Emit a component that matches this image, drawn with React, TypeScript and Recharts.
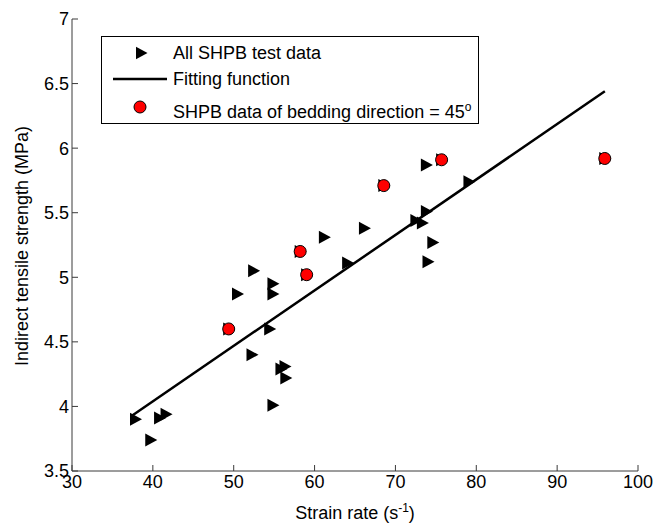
import React from 'react';
import { ScatterChart, Scatter, XAxis, YAxis, Legend } from 'recharts';

// All SHPB test data (strain rate, indirect tensile strength)
const allRate = [37.85, 39.74, 40.83, 41.63, 49.38, 50.47, 52.26, 52.46, 54.45, 54.85, 54.85, 54.85, 55.84, 56.34, 56.44, 58.22, 59.02, 61.21, 64.09, 66.17, 68.56, 72.53, 73.33, 73.83, 73.83, 74.62, 74.03, 75.71, 79.09, 95.89];
const allStrength = [3.90, 3.74, 3.91, 3.94, 4.60, 4.87, 4.40, 5.05, 4.60, 4.95, 4.87, 4.01, 4.29, 4.31, 4.22, 5.20, 5.02, 5.31, 5.11, 5.38, 5.71, 5.44, 5.42, 5.51, 5.87, 5.27, 5.12, 5.91, 5.74, 5.92];

// bedding direction = 45 deg
const beddingRate = [49.38, 58.22, 59.02, 68.56, 75.71, 95.89];
const beddingStrength = [4.60, 5.20, 5.02, 5.71, 5.91, 5.92];

// fitting function end points
const fitRate = [37.45, 95.9];
const fitStrength = [3.93, 6.44];

const xTicks = [30, 40, 50, 60, 70, 80, 90, 100];
const yTicks = [3.5, 4, 4.5, 5, 5.5, 6, 6.5, 7];

const FONT = '"Liberation Sans", Arial, sans-serif';
const AXIS = '#3a3a3a';

const zip = (xs: number[], ys: number[]) => xs.map((x, i) => ({ x, y: ys[i] }));
const allData = zip(allRate, allStrength);
const beddingData = zip(beddingRate, beddingStrength);
const fitData = zip(fitRate, fitStrength);

const Triangle = (props: any) => {
  const { cx, cy } = props;
  return <path d={`M${cx - 5.5},${cy - 6.5}L${cx + 6.5},${cy}L${cx - 5.5},${cy + 6.5}Z`} fill="#000" />;
};

const RedDot = (props: any) => {
  const { cx, cy } = props;
  return <circle cx={cx} cy={cy} r={6} fill="#ff0000" stroke="#000" strokeWidth={1} />;
};

const LegendBox = () => {
  const row = (top: number, icon: React.ReactNode, label: React.ReactNode) => (
    <div style={{ position: 'absolute', left: 0, top, height: 20, width: '100%' }}>
      <svg width={72} height={20} style={{ position: 'absolute', left: 0, top: 0 }}>{icon}</svg>
      <span style={{ position: 'absolute', left: 71, top: 0, lineHeight: '20px', whiteSpace: 'nowrap' }}>{label}</span>
    </div>
  );
  return (
    <div style={{ position: 'relative', width: 378, height: 88, border: '1px solid #000', boxSizing: 'border-box', background: '#fff', fontFamily: FONT, fontSize: 18, color: '#000' }}>
      {row(6, <path d="M34,3.7L45.5,10L34,16.3Z" fill="#000" />, 'All SHPB test data')}
      {row(32, <line x1={11} x2={65} y1={10} y2={10} stroke="#000" strokeWidth={2.5} />, 'Fitting function')}
      {row(60, <circle cx={38} cy={10} r={6} fill="#ff0000" stroke="#000" />, (
        <>SHPB data of bedding direction = 45<sup style={{ fontSize: 12, verticalAlign: 7 }}>o</sup></>
      ))}
    </div>
  );
};

export default function App() {
  return (
    <div style={{ position: 'absolute', left: 0, top: 0, background: '#fff' }}>
      <ScatterChart width={672} height={525} margin={{ top: 19, right: 34, bottom: 0, left: 0 }}>
        <XAxis
          type="number"
          dataKey="x"
          domain={[30, 100]}
          ticks={xTicks}
          height={54}
          stroke={AXIS}
          tickSize={-6}
          tickMargin={10}
          tick={{ fill: '#000', fontSize: 18, fontFamily: FONT }}
          label={{
            content: (p: any) => {
              const vb = p.viewBox;
              return (
                <text x={vb.x + vb.width / 2} y={519} textAnchor="middle" fontFamily={FONT} fontSize={18} fill="#000">
                  Strain rate (s<tspan dy={-7} fontSize={12}>-1</tspan><tspan dy={7}>)</tspan>
                </text>
              );
            },
          }}
        />
        <YAxis
          type="number"
          dataKey="y"
          domain={[3.5, 7]}
          ticks={yTicks}
          width={72}
          stroke={AXIS}
          tickSize={-6}
          tickMargin={9}
          tick={{ fill: '#000', fontSize: 18, fontFamily: FONT }}
          label={{
            content: (p: any) => {
              const vb = p.viewBox;
              const cy = vb.y + vb.height / 2 + 1;
              return (
                <text x={22} y={cy} transform={`rotate(-90 22 ${cy})`} textAnchor="middle" dominantBaseline="central" fontFamily={FONT} fontSize={18} fill="#000">
                  Indirect tensile strength (MPa)
                </text>
              );
            },
          }}
        />
        <Legend
          layout="horizontal"
          verticalAlign="middle"
          align="center"
          wrapperStyle={{ left: 101, top: 36, width: 378, height: 88 }}
          content={() => <LegendBox />}
        />
        <Scatter
          name="Fitting function"
          data={fitData}
          line={{ stroke: '#000', strokeWidth: 2.5 }}
          lineType="joint"
          shape={() => <g />}
          isAnimationActive={false}
        />
        <Scatter name="All SHPB test data" data={allData} shape={Triangle} isAnimationActive={false} />
        <Scatter name="SHPB data of bedding direction = 45" data={beddingData} shape={RedDot} isAnimationActive={false} />
      </ScatterChart>
    </div>
  );
}
